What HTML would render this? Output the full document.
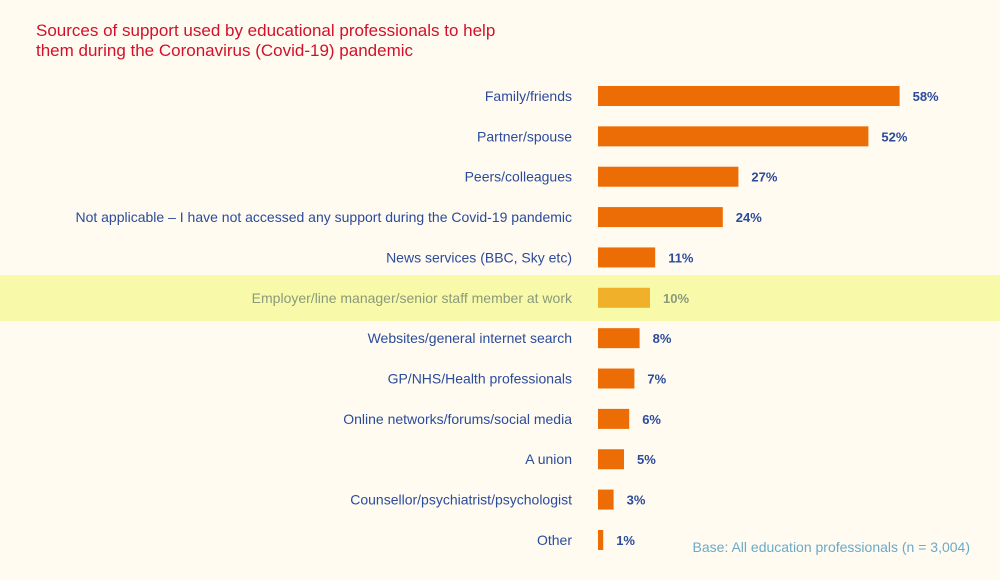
<!DOCTYPE html>
<html><head><meta charset="utf-8"><style>
body{margin:0;background:#fffbf1;}
svg{display:block;font-family:"Liberation Sans",sans-serif;}
</style></head><body>
<svg id="c" width="1000" height="580">
<rect width="1000" height="580" fill="#fffbf1"/>
<rect x="0" y="275" width="1000" height="46" fill="#f8f9a9"/>
<text x="36" y="36" font-size="17" fill="#d3102a">Sources of support used by educational professionals to help</text>
<text x="36" y="56" font-size="17" fill="#d3102a">them during the Coronavirus (Covid-19) pandemic</text>
<text x="970" y="552" font-size="14" fill="#6aaac8" text-anchor="end">Base: All education professionals (n = 3,004)</text>
<g id="bars"></g>
</svg>
<script>
const categories=["Family/friends","Partner/spouse","Peers/colleagues","Not applicable – I have not accessed any support during the Covid-19 pandemic","News services (BBC, Sky etc)","Employer/line manager/senior staff member at work","Websites/general internet search","GP/NHS/Health professionals","Online networks/forums/social media","A union","Counsellor/psychiatrist/psychologist","Other"];
const values=[58,52,27,24,11,10,8,7,6,5,3,1];
const highlightIndex=5;
const x0=598,pxPer=5.2,y0=96,step=40.36,bh=20;
const xs=v=>x0+v*pxPer, ys=i=>y0+i*step;
const g=document.getElementById('bars');
const NS="http://www.w3.org/2000/svg";
categories.forEach((c,i)=>{
  const hl=i===highlightIndex;
  const r=document.createElementNS(NS,'rect');
  
  
  r.setAttribute('x',x0);r.setAttribute('y',ys(i)-bh/2);
  r.setAttribute('width',xs(values[i])-x0);r.setAttribute('height',bh);
  r.setAttribute('fill',hl?'#f0b02a':'#ec6c05');
  g.appendChild(r);
  const t=document.createElementNS(NS,'text');
  
  
  t.setAttribute('x',572);t.setAttribute('y',ys(i)+5);
  t.setAttribute('text-anchor','end');t.setAttribute('font-size','14');
  t.setAttribute('fill',hl?'#8a9a7a':'#2b4b9b');
  t.textContent=c;g.appendChild(t);
  const v=document.createElementNS(NS,'text');
  
  
  v.setAttribute('x',xs(values[i])+13);v.setAttribute('y',ys(i)+5);
  v.setAttribute('font-size','13');v.setAttribute('font-weight','bold');
  v.setAttribute('fill',hl?'#8a9a7a':'#2b4b9b');
  v.textContent=values[i]+'%';g.appendChild(v);
});
</script>
</body></html>
